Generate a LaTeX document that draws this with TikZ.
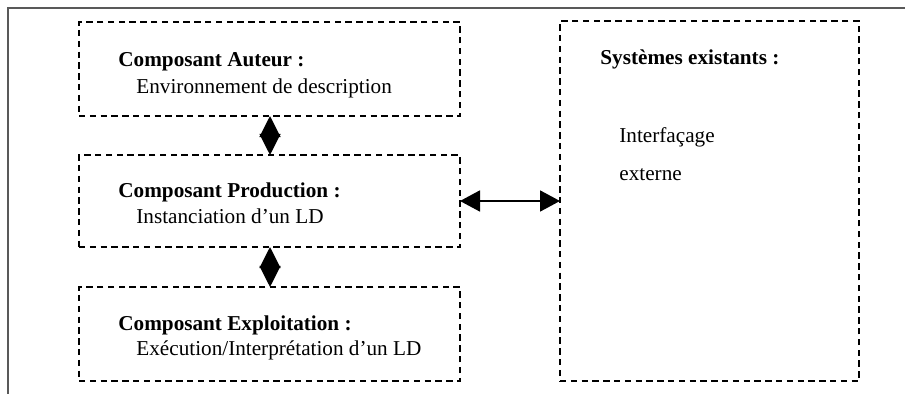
\documentclass[tikz,border=0pt]{standalone}
\usepackage{fontspec}
\setmainfont{Liberation Serif}
\usetikzlibrary{arrows.meta}
\tikzset{
  dbox/.style={draw=black, line width=1.2pt, dash pattern=on 3.2pt off 2.2pt,
    inner sep=0pt, outer sep=0pt, anchor=north west},
  title/.style={anchor=base west, inner sep=0pt, font=\bfseries},
  body/.style={anchor=base west, inner sep=0pt},
  link/.style={line width=0.9pt,
    {Triangle[length=10.6pt,width=10.5pt]}-{Triangle[length=10.6pt,width=10.5pt]}},
  hlink/.style={line width=0.9pt,
    {Triangle[length=10pt,width=10.5pt]}-{Triangle[length=10pt,width=10.5pt]}}
}
\begin{document}
\begin{tikzpicture}[x=0.5pt,y=-0.5pt]
\fontsize{10.6}{12.5}\selectfont
\useasboundingbox (0,0) rectangle (905,394);
% page frame
\draw[line width=1pt, black!65] (8,394) -- (8,8) -- (905,8);
% component boxes
\node[dbox, minimum width=190.5pt, minimum height=47pt] (aut) at (79,22) {};
\node[dbox, minimum width=190.5pt, minimum height=46pt] (prod) at (79,155) {};
\node[dbox, minimum width=190.5pt, minimum height=47pt] (expl) at (79,287) {};
\node[dbox, minimum width=149.5pt, minimum height=180pt] (sys) at (560,21) {};
% labels
\node[title] (autT) at (118,67) {Composant Auteur :};
\node[body] (autB) at (136,94) {Environnement de description};
\node[title] (prodT) at (118,198) {Composant Production :};
\node[body] (prodB) at (136,224) {Instanciation d’un LD};
\node[title] (explT) at (118,331) {Composant Exploitation :};
\node[body] (explB) at (136,356) {Exécution/Interprétation d’un LD};
\node[title] (sysT) at (600,65) {Systèmes existants :};
\node[body] (sysB1) at (619,143) {Interfaçage};
\node[body] (sysB2) at (619,181) {externe};
% links
\draw[link] (aut.south -| 270,0) -- (prod.north -| 270,0);
\draw[link] (prod.south -| 270,0) -- (expl.north -| 270,0);
\draw[hlink] (prod.east) -- (sys.west);
\end{tikzpicture}
\end{document}
